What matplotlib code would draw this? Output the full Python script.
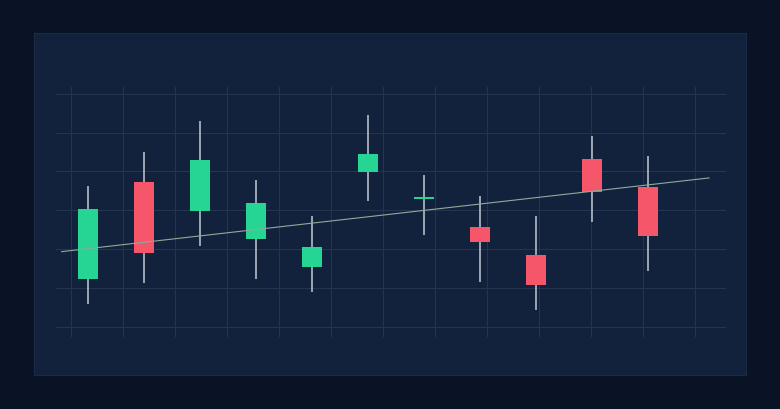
import numpy as np
import matplotlib
matplotlib.use("Agg")
import matplotlib.pyplot as plt

# candlestick data (index, ohlc)
days = np.arange(11)
opens = [112.4, 137.2, 129.8, 122.6, 115.4, 139.9, 132.8, 125.8, 118.6, 143.2, 136.1]
highs = [136.2, 145.0, 152.9, 137.7, 128.5, 154.4, 139.1, 133.6, 128.5, 149.0, 143.9]
lows = [106.1, 111.3, 120.8, 112.3, 109.1, 132.3, 123.7, 111.5, 104.5, 126.9, 114.4]
closes = [130.3, 119.0, 143.0, 131.8, 120.7, 144.5, 133.4, 121.9, 110.8, 134.6, 123.4]

# trend line end points
trend_x = [-0.47, 11.09]
trend_y = [119.4, 138.3]

BG = "#0a1326"
PANEL = "#13223c"
GRID = "#25354f"
UP = "#26d494"
DOWN = "#f5566a"
WICK = "#c3cad4"
TREND = "#8faa9c"

fig = plt.figure(figsize=(7.8, 4.1), dpi=100, facecolor=BG)

# panel
panel = fig.add_axes([34/780, 34/410, 712/780, 342/410])
panel.set_facecolor(PANEL)
panel.set_xticks([])
panel.set_yticks([])
for s in panel.spines.values():
    s.set_color("#1a2a45")
    s.set_linewidth(0.8)

# background grid
box = [56/780, (410-338.3)/410, 670/780, 250/410]
grid = fig.add_axes(box)
grid.set_facecolor("none")
grid.set_xlim(-15/52, 12 + 31/52)
grid.set_ylim(-10/39, 6 + 6.3/39)
for k in range(13):
    grid.axvline(k, color=GRID, lw=0.75)
for k in range(7):
    grid.axhline(k, color=GRID, lw=0.75)
grid.axis("off")

# candles
ax = fig.add_axes(box)
ax.set_facecolor("none")
ax.set_xlim(-32/56, (726-88)/56)
ax.set_ylim(97.44, 161.54)
ax.axis("off")

width = 0.34
for i, o, h, l, c in zip(days, opens, highs, lows, closes):
    col = UP if c >= o else DOWN
    ax.vlines(i, l, h, color=WICK, lw=1.1, zorder=2)
    lo, hi = min(o, c), max(o, c)
    ax.bar(i, max(hi - lo, 0.5), width=width, bottom=lo, color=col,
           edgecolor="none", zorder=3)

ax.plot(trend_x, trend_y, color=TREND, lw=0.8, zorder=4)

fig.savefig("out.png", dpi=100, facecolor=BG)
